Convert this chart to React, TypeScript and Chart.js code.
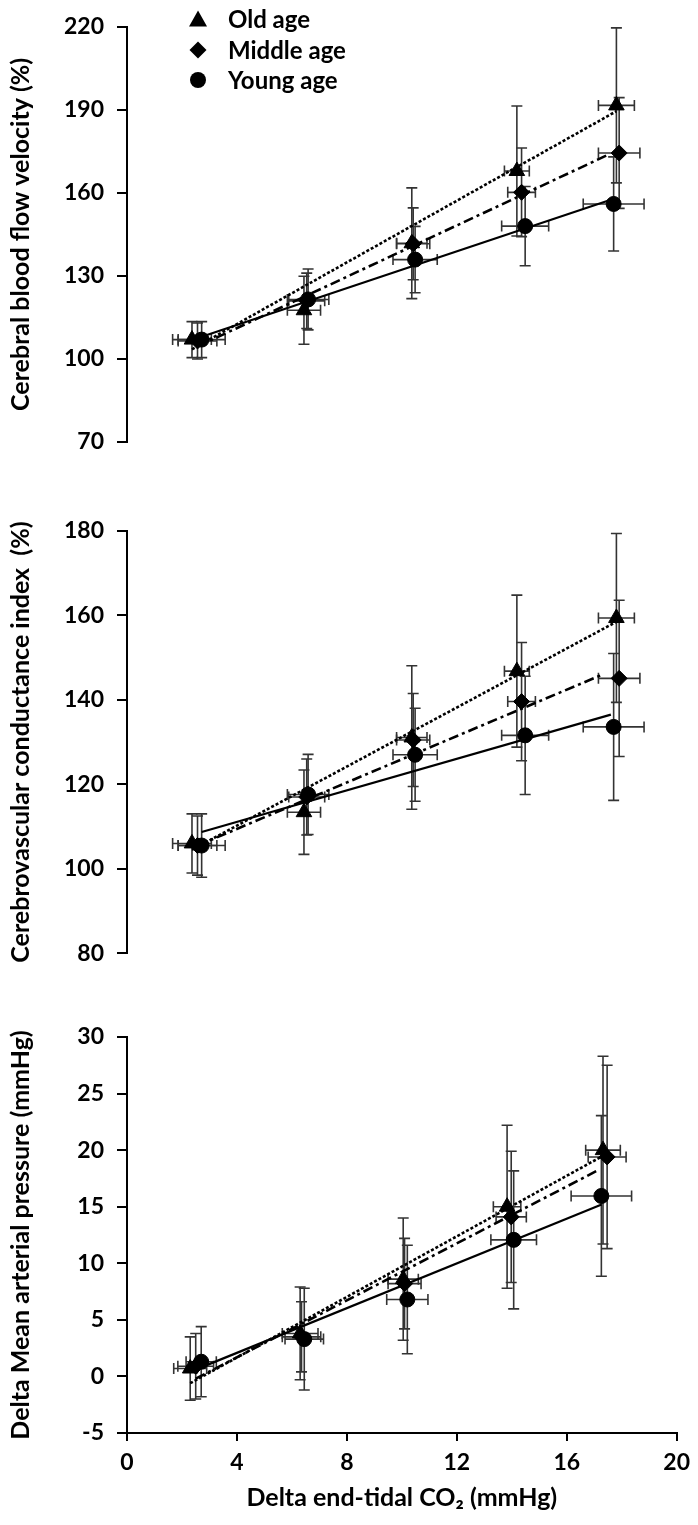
import React, { useEffect, useRef } from 'react';
import { Chart, registerables } from 'chart.js';

Chart.register(...registerables);

const FONT = 'Lato, "Open Sans", sans-serif';

const groupLabels = ['Old age', 'Middle age', 'Young age'];
const xTickStep = 4;
const xMin = 0;
const xMax = 20;
const xTitle = 'Delta end-tidal CO₂ (mmHg)';

// Delta end-tidal CO2 for panels 1 and 2
const co2OldX = [2.35, 6.4, 10.3, 14.1, 17.7];
const co2MiddleX = [2.55, 6.5, 10.35, 14.27, 17.8];
const co2YoungX = [2.7, 6.55, 10.42, 14.4, 17.6];
const co2OldXErr = [0.7, 0.6, 0.55, 0.45, 0.65];
const co2MiddleXErr = [0.7, 0.65, 0.6, 0.5, 0.75];
const co2YoungXErr = [0.85, 0.75, 0.8, 0.85, 1.1];

// Panel 1: cerebral blood flow velocity (%)
const cbfvOld = [107, 117.6, 141.8, 167.9, 191.6];
const cbfvMiddle = [106.5, 121, 141.6, 160.2, 174.4];
const cbfvYoung = [107, 121.5, 135.9, 148, 156];
const cbfvOldErr = [6.5, 12.3, 20, 23.5, 28];
const cbfvMiddleErr = [6.5, 10, 13, 16, 20];
const cbfvYoungErr = [6.5, 11, 12, 14.3, 17];
const cbfvOldFitX = [2.35, 17.7];
const cbfvOldFitY = [103.5, 189.5];
const cbfvMiddleFitX = [2.55, 17.45];
const cbfvMiddleFitY = [104.5, 174];
const cbfvYoungFitX = [2.7, 17.5];
const cbfvYoungFitY = [108, 157.5];

// Panel 2: cerebrovascular conductance index (%)
const cvciOld = [106, 113.4, 131.1, 146.8, 159.4];
const cvciMiddle = [105.5, 117, 130.5, 139.6, 145.1];
const cvciYoung = [105.5, 117.6, 127, 131.6, 133.6];
const cvciOldErr = [7, 10, 17, 18, 20];
const cvciMiddleErr = [7, 9, 11, 14, 18.5];
const cvciYoungErr = [7.5, 9.5, 11, 14, 17.4];
const cvciOldFitX = [2.35, 17.7];
const cvciOldFitY = [104.5, 158.5];
const cvciMiddleFitX = [2.55, 17.2];
const cvciMiddleFitY = [105.5, 146];
const cvciYoungFitX = [2.7, 17.5];
const cvciYoungFitY = [108.7, 136.5];

// Panel 3: delta mean arterial pressure (mmHg)
const mapOldX = [2.3, 6.3, 10.05, 13.83, 17.32];
const mapMiddleX = [2.5, 6.35, 10.1, 13.98, 17.47];
const mapYoungX = [2.7, 6.45, 10.2, 14.07, 17.26];
const mapOldXErr = [0.6, 0.65, 0.55, 0.5, 0.63];
const mapMiddleXErr = [0.65, 0.7, 0.6, 0.55, 0.69];
const mapYoungXErr = [0.55, 0.7, 0.75, 0.83, 1.1];
const mapOld = [0.7, 3.8, 8.6, 15.0, 20.0];
const mapMiddle = [0.9, 3.5, 8.2, 14.1, 19.4];
const mapYoung = [1.3, 3.3, 6.8, 12.07, 15.95];
const mapOldErr = [2.8, 4.1, 5.4, 7.2, 8.3];
const mapMiddleErr = [2.9, 3.1, 4.0, 5.8, 8.1];
const mapYoungErr = [3.1, 4.5, 4.8, 6.1, 7.1];
const mapOldFitX = [2.3, 17.32];
const mapOldFitY = [-0.6, 19.5];
const mapMiddleFitX = [2.5, 17.2];
const mapMiddleFitY = [-0.2, 18.3];
const mapYoungFitX = [2.5, 17.27];
const mapYoungFitY = [0.6, 15.2];

const pointStyles = ['triangle', 'rectRot', 'circle'];
const pointRadii = [9, 8, 7.5];
const fitDashes = [[3, 2], [10, 4, 3, 4], []];

const errorBarPlugin = {
  id: 'errorBars',
  beforeDatasetsDraw(chart: any) {
    const { ctx } = chart;
    const xs = chart.scales.x;
    const ys = chart.scales.y;
    ctx.save();
    ctx.strokeStyle = '#333';
    ctx.lineWidth = 1.6;
    const c = 5.5;
    chart.data.datasets.forEach((ds: any) => {
      if (!ds.yErr) return;
      ds.data.forEach((p: any, i: number) => {
        const px = xs.getPixelForValue(p.x);
        const py = ys.getPixelForValue(p.y);
        const y1 = ys.getPixelForValue(p.y + ds.yErr[i]);
        const y2 = ys.getPixelForValue(p.y - ds.yErr[i]);
        const x1 = xs.getPixelForValue(p.x - ds.xErr[i]);
        const x2 = xs.getPixelForValue(p.x + ds.xErr[i]);
        ctx.beginPath();
        ctx.moveTo(px, y1); ctx.lineTo(px, y2);
        ctx.moveTo(px - c, y1); ctx.lineTo(px + c, y1);
        ctx.moveTo(px - c, y2); ctx.lineTo(px + c, y2);
        ctx.moveTo(x1, py); ctx.lineTo(x2, py);
        ctx.moveTo(x1, py - c); ctx.lineTo(x1, py + c);
        ctx.moveTo(x2, py - c); ctx.lineTo(x2, py + c);
        ctx.stroke();
      });
    });
    ctx.restore();
  },
};

type Group = { x: number[]; y: number[]; xErr: number[]; yErr: number[]; fitX: number[]; fitY: number[] };

function buildDatasets(groups: Group[]) {
  const fits = groups.map((g, i) => ({
    type: 'line' as const,
    label: groupLabels[i] + ' fit',
    data: g.fitX.map((x, k) => ({ x, y: g.fitY[k] })),
    borderColor: '#000',
    borderWidth: i === 2 ? 2.2 : 2.6,
    borderDash: fitDashes[i],
    pointRadius: 0,
    fill: false,
    order: 10,
  }));
  const pts = groups.map((g, i) => ({
    type: 'scatter' as const,
    label: groupLabels[i],
    data: g.x.map((x, k) => ({ x, y: g.y[k] })),
    xErr: g.xErr,
    yErr: g.yErr,
    pointStyle: pointStyles[i],
    pointRadius: pointRadii[i],
    backgroundColor: '#000',
    borderColor: '#000',
    borderWidth: 1,
    order: 1,
  }));
  return [...fits, ...pts];
}

type PanelProps = {
  top: number;
  height: number;
  padTop: number;
  padBottom: number;
  showX: boolean;
  yMin: number;
  yMax: number;
  yStep: number;
  yTitle: string;
  groups: Group[];
};

function Panel(props: PanelProps) {
  const ref = useRef<HTMLCanvasElement>(null);
  useEffect(() => {
    const { padTop, padBottom, showX, yMin, yMax, yStep, yTitle, groups } = props;
    const tickFont = { family: FONT, size: 23, weight: 'bold' as const };
    const titleFont = { family: FONT, size: 25, weight: 'bold' as const };
    const chart = new Chart(ref.current as HTMLCanvasElement, {
      type: 'scatter',
      data: { datasets: buildDatasets(groups) as any },
      options: {
        animation: false,
        responsive: false,
        devicePixelRatio: 1,
        layout: { padding: { top: padTop, bottom: showX ? 0 : padBottom, left: 0, right: 18 } },
        plugins: { legend: { display: false }, tooltip: { enabled: false } },
        scales: {
          x: {
            type: 'linear',
            min: xMin,
            max: xMax,
            display: showX,
            ticks: { stepSize: xTickStep, color: '#000', font: tickFont, padding: 8 },
            grid: { drawOnChartArea: false, drawTicks: true, tickLength: 8, color: '#000', lineWidth: 2 },
            border: { display: true, color: '#000', width: 2 },
            title: { display: true, text: xTitle, color: '#000', font: titleFont, padding: { top: 0, bottom: 12 } },
            afterFit: (s: any) => { if (showX) s.height = padBottom; },
          },
          y: {
            type: 'linear',
            min: yMin,
            max: yMax,
            ticks: { stepSize: yStep, color: '#000', font: tickFont, padding: 13 },
            grid: { drawOnChartArea: false, drawTicks: true, tickLength: 10, color: '#000', lineWidth: 2 },
            border: { display: true, color: '#000', width: 2 },
            title: { display: true, text: yTitle, color: '#000', font: titleFont, padding: { top: 6, bottom: 0 } },
            afterFit: (s: any) => { s.width = 127; },
          },
        },
      } as any,
      plugins: [errorBarPlugin],
    });
    return () => chart.destroy();
  }, []);
  return (
    <canvas
      ref={ref}
      width={698}
      height={props.height}
      style={{ position: 'absolute', left: 0, top: props.top, width: 698, height: props.height }}
    />
  );
}

function LegendMarker({ kind }: { kind: number }) {
  const s = 20;
  let shape: React.ReactNode;
  if (kind === 0) shape = <polygon points="10,1.5 19,17.5 1,17.5" fill="#000" />;
  else if (kind === 1) shape = <polygon points="10,1.5 18.5,10 10,18.5 1.5,10" fill="#000" />;
  else shape = <circle cx="10" cy="10" r="8" fill="#000" />;
  return (
    <svg width={s} height={s} viewBox="0 0 20 20" style={{ position: 'absolute', left: -10, top: -10 }}>
      {shape}
    </svg>
  );
}

const legendX = 198;
const legendY = [19, 50, 80];

export default function App() {
  const panel1: Group[] = [
    { x: co2OldX, y: cbfvOld, xErr: co2OldXErr, yErr: cbfvOldErr, fitX: cbfvOldFitX, fitY: cbfvOldFitY },
    { x: co2MiddleX, y: cbfvMiddle, xErr: co2MiddleXErr, yErr: cbfvMiddleErr, fitX: cbfvMiddleFitX, fitY: cbfvMiddleFitY },
    { x: co2YoungX, y: cbfvYoung, xErr: co2YoungXErr, yErr: cbfvYoungErr, fitX: cbfvYoungFitX, fitY: cbfvYoungFitY },
  ];
  const panel2: Group[] = [
    { x: co2OldX, y: cvciOld, xErr: co2OldXErr, yErr: cvciOldErr, fitX: cvciOldFitX, fitY: cvciOldFitY },
    { x: co2MiddleX, y: cvciMiddle, xErr: co2MiddleXErr, yErr: cvciMiddleErr, fitX: cvciMiddleFitX, fitY: cvciMiddleFitY },
    { x: co2YoungX, y: cvciYoung, xErr: co2YoungXErr, yErr: cvciYoungErr, fitX: cvciYoungFitX, fitY: cvciYoungFitY },
  ];
  const panel3: Group[] = [
    { x: mapOldX, y: mapOld, xErr: mapOldXErr, yErr: mapOldErr, fitX: mapOldFitX, fitY: mapOldFitY },
    { x: mapMiddleX, y: mapMiddle, xErr: mapMiddleXErr, yErr: mapMiddleErr, fitX: mapMiddleFitX, fitY: mapMiddleFitY },
    { x: mapYoungX, y: mapYoung, xErr: mapYoungXErr, yErr: mapYoungErr, fitX: mapYoungFitX, fitY: mapYoungFitY },
  ];
  return (
    <div style={{ position: 'absolute', left: 0, top: 0, width: 698, height: 1525, background: '#fff', overflow: 'hidden' }}>
      <Panel top={0} height={470} padTop={20} padBottom={28} showX={false} yMin={70} yMax={220} yStep={30}
        yTitle="Cerebral blood flow velocity (%)" groups={panel1} />
      <Panel top={480} height={500} padTop={51} padBottom={25} showX={false} yMin={80} yMax={180} yStep={20}
        yTitle="Cerebrovascular conductance index  (%)" groups={panel2} />
      <Panel top={990} height={535} padTop={47} padBottom={92} showX={true} yMin={-5} yMax={30} yStep={5}
        yTitle="Delta Mean arterial pressure (mmHg)" groups={panel3} />
      {groupLabels.map((label, i) => (
        <div key={label} style={{ position: 'absolute', left: legendX, top: legendY[i], width: 0, height: 0 }}>
          <LegendMarker kind={i} />
          <span style={{ position: 'absolute', left: 30, top: -14, fontFamily: FONT, fontSize: 24, fontWeight: 'bold', lineHeight: '28px', whiteSpace: 'nowrap', color: '#000' }}>
            {label}
          </span>
        </div>
      ))}
    </div>
  );
}
